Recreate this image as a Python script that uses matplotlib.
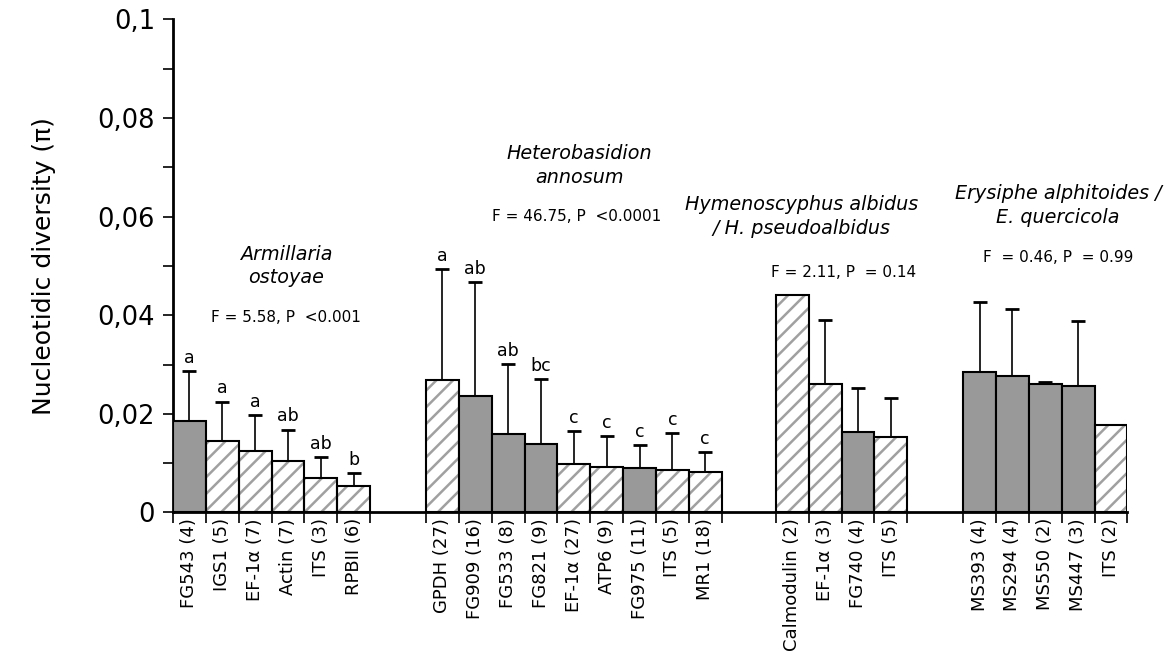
import numpy as np
import matplotlib.pyplot as plt

# data
genes = [
    ['FG543 (4)', 'IGS1 (5)', 'EF-1α (7)', 'Actin (7)', 'ITS (3)', 'RPBII (6)'],
    ['GPDH (27)', 'FG909 (16)', 'FG533 (8)', 'FG821 (9)', 'EF-1α (27)', 'ATP6 (9)',
     'FG975 (11)', 'ITS (5)', 'MR1 (18)'],
    ['Calmodulin (2)', 'EF-1α (3)', 'FG740 (4)', 'ITS (5)'],
    ['MS393 (4)', 'MS294 (4)', 'MS550 (2)', 'MS447 (3)', 'ITS (2)'],
]
pi = [
    [0.0186, 0.0145, 0.0125, 0.0104, 0.0069, 0.0053],
    [0.0269, 0.0237, 0.0159, 0.0139, 0.0098, 0.0092, 0.0091, 0.0086, 0.0082],
    [0.0441, 0.0261, 0.0163, 0.0153],
    [0.0284, 0.0276, 0.0260, 0.0256, 0.0178],
]
pi_top = [
    [0.0287, 0.0225, 0.0197, 0.0168, 0.0112, 0.0080],
    [0.0493, 0.0467, 0.0301, 0.0271, 0.0165, 0.0155, 0.0136, 0.0161, 0.0123],
    [None, 0.0391, 0.0252, 0.0233],
    [0.0427, 0.0412, 0.0264, 0.0389, None],
]
hatched = [
    [0, 1, 1, 1, 1, 1],
    [1, 0, 0, 0, 1, 1, 0, 1, 1],
    [1, 1, 0, 1],
    [0, 0, 0, 0, 1],
]
letters = [
    ['a', 'a', 'a', 'ab', 'ab', 'b'],
    ['a', 'ab', 'ab', 'bc', 'c', 'c', 'c', 'c', 'c'],
    [],
    [],
]
species = ['Armillaria\nostoyae', 'Heterobasidion\nannosum',
           'Hymenoscyphus albidus\n/ H. pseudoalbidus',
           'Erysiphe alphitoides /\nE. quercicola']
stats = ['F = 5.58, P  <0.001', 'F = 46.75, P  <0.0001',
         'F = 2.11, P  = 0.14', 'F  = 0.46, P  = 0.99']

group_start = [0, 7.7, 18.35, 24.05]
# label positions (x, y title, y stats)
title_pos = [(3.44, 0.0500, 0.0395), (12.36, 0.0704, 0.0601),
             (19.12, 0.0600, 0.0486), (26.94, 0.0623, 0.0518)]
stat_x = [3.44, 12.3, 20.4, 26.94]

plt.rcParams['hatch.linewidth'] = 1.8
fig = plt.figure(figsize=(11.67, 6.61), dpi=100)
ax = fig.add_axes([0.1482, 0.2247, 0.9661 - 0.1482, 0.9705 - 0.2247])

centers = []
labels = []
edges = []
for g in range(4):
    x = group_start[g] + 0.5 + np.arange(len(genes[g]))
    edges += list(group_start[g] + np.arange(len(genes[g]) + 1))
    for i in range(len(genes[g])):
        if hatched[g][i]:
            ax.bar(x[i], pi[g][i], width=1, color='white', edgecolor='#a0a0a0',
                   hatch='//', linewidth=0, zorder=2)
            ax.bar(x[i], pi[g][i], width=1, color='none', edgecolor='black',
                   linewidth=1.5, zorder=3)
        else:
            ax.bar(x[i], pi[g][i], width=1, color='#999999', edgecolor='black',
                   linewidth=1.5, zorder=3)
        if pi_top[g][i] is not None:
            ax.errorbar(x[i], pi[g][i], yerr=[[0], [pi_top[g][i] - pi[g][i]]],
                        color='black', elinewidth=1.2, capsize=5, capthick=2,
                        zorder=1)
        if letters[g]:
            ax.annotate(letters[g][i], (x[i], pi_top[g][i]), xytext=(0, 3),
                        textcoords='offset points', ha='center', va='bottom',
                        fontsize=12.5)
    centers += list(x)
    labels += genes[g]
    tx, ty, sy = title_pos[g]
    ax.text(tx, ty, species[g], ha='center', va='center', fontsize=13.8,
            style='italic', linespacing=1.3)
    ax.text(stat_x[g], sy, stats[g], ha='center', va='center', fontsize=11)

ax.set_xlim(0, 29.05)
ax.set_ylim(0, 0.1)
ax.set_xticks(centers)
ax.set_xticklabels(labels, rotation=90, fontsize=13)
ax.set_xticks(edges, minor=True)
ax.tick_params(axis='x', which='major', length=0, pad=4)
ax.tick_params(axis='x', which='minor', length=8, width=1.2, direction='out')

ax.set_yticks(np.arange(0, 0.101, 0.02))
ax.set_yticklabels(['0', '0,02', '0,04', '0,06', '0,08', '0,1'], fontsize=18.5)
ax.set_yticks(np.arange(0.01, 0.1, 0.02), minor=True)
ax.tick_params(axis='y', which='both', length=7, width=1.2, direction='out', pad=6)
ax.set_ylabel('Nucleotidic diversity (π)', fontsize=18, labelpad=30)

for s in ['top', 'right']:
    ax.spines[s].set_visible(False)
for s in ['left', 'bottom']:
    ax.spines[s].set_linewidth(2)

fig.savefig('out.png', dpi=100)
